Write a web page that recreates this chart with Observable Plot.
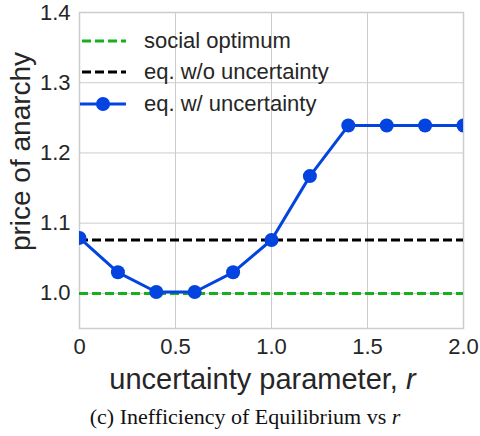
<!DOCTYPE html>
<html>
<head>
<meta charset="utf-8">
<script src="https://cdn.jsdelivr.net/npm/d3@7"></script>
<script src="https://cdn.jsdelivr.net/npm/@observablehq/plot@0.6"></script>
<style>
  html, body { margin: 0; padding: 0; background: white; }
  #wrap { position: relative; width: 480px; }
  #legend { position: absolute; left: 80px; top: 25px; font-family: "Liberation Sans", Arial, sans-serif; font-size: 22px; color: #262626; }
  .row { display: flex; align-items: center; height: 31.5px; }
  .row svg { flex: none; }
  .row span { margin-left: 18px; white-space: nowrap; }
  #caption { font-family: "Liberation Serif", "Times New Roman", serif; font-size: 22px; line-height: 30px; padding-top: 2px; text-align: center; padding-left: 10px; color: #111; }
</style>
</head>
<body>
<div id="wrap"></div>
<div id="caption">(c) Inefficiency of Equilibrium vs <i>r</i></div>
<script>
// data
const rValues = [0, 0.2, 0.4, 0.6, 0.8, 1.0, 1.2, 1.4, 1.6, 1.8, 2.0];
const poaWithUncertainty = [1.079, 1.030, 1.002, 1.002, 1.030, 1.076, 1.167, 1.239, 1.239, 1.239, 1.239];
const socialOptimum = 1.0;
const eqWithoutUncertainty = 1.076;
const xTicks = [0, 0.5, 1.0, 1.5, 2.0];
const xTickLabels = ["0", "0.5", "1.0", "1.5", "2.0"];
const yTicks = [1.0, 1.1, 1.2, 1.3, 1.4];
const yTickLabels = ["1.0", "1.1", "1.2", "1.3", "1.4"];
const seriesNames = ["social optimum", "eq. w/o uncertainty", "eq. w/ uncertainty"];
const xLabel = "uncertainty parameter, r";
const yLabel = "price of anarchy";

const colors = { social: "#15b01a", noUnc: "#000000", unc: "#0343df" };
const data = rValues.map((r, i) => ({ r, poa: poaWithUncertainty[i] }));

const chart = Plot.plot({
  width: 480,
  height: 400,
  marginLeft: 79,
  marginRight: 17,
  marginTop: 12,
  marginBottom: 72,
  style: { fontFamily: "Liberation Sans, Arial, sans-serif", fontSize: "22px", background: "white", overflow: "visible" },
  x: { domain: [0, 2] },
  y: { domain: [0.95, 1.4] },
  marks: [
    Plot.gridX(xTicks, { stroke: "#cccccc", strokeOpacity: 1, strokeWidth: 1 }),
    Plot.gridY(yTicks, { stroke: "#cccccc", strokeOpacity: 1, strokeWidth: 1 }),
    Plot.frame({ stroke: "#cccccc", strokeWidth: 1.5 }),
    Plot.axisX(xTicks, { tickSize: 0, tickPadding: 10, fontSize: 22, color: "#262626", label: null,
      tickFormat: (d) => xTickLabels[xTicks.indexOf(d)] }),
    Plot.axisY(yTicks, { tickSize: 0, tickPadding: 9, fontSize: 22, color: "#262626", label: null,
      tickFormat: (d) => yTickLabels[yTicks.indexOf(d)] }),
    Plot.ruleY([socialOptimum], { stroke: colors.social, strokeWidth: 3, strokeDasharray: "9,4" }),
    Plot.ruleY([eqWithoutUncertainty], { stroke: colors.noUnc, strokeWidth: 3, strokeDasharray: "9,4" }),
    Plot.line(data, { x: "r", y: "poa", stroke: colors.unc, strokeWidth: 3, clip: true }),
    Plot.dot(data, { x: "r", y: "poa", r: 7, fill: colors.unc, stroke: "none", clip: true }),
    Plot.text([xLabel], { frameAnchor: "bottom", dx: -9, dy: 60, lineAnchor: "bottom", textAnchor: "middle", fontSize: 29, fill: "#262626" }),
    Plot.text([yLabel], { frameAnchor: "left", dx: -58, dy: -19, rotate: -90, lineAnchor: "middle", textAnchor: "middle", fontSize: 28, fill: "#262626" })
  ]
});

// italic r in x label
chart.querySelectorAll("text").forEach((t) => {
  if (t.textContent === xLabel) {
    t.textContent = "uncertainty parameter, ";
    const ts = document.createElementNS("http://www.w3.org/2000/svg", "tspan");
    ts.setAttribute("font-style", "italic");
    ts.textContent = "r";
    t.appendChild(ts);
  }
});

const wrap = document.getElementById("wrap");
wrap.appendChild(chart);

// legend overlay
const legend = document.createElement("div");
legend.id = "legend";
const sample = (color, dashed, marker) =>
  `<svg width="46" height="16" viewBox="0 0 46 16">` +
  (dashed
    ? `<line x1="2" y1="8" x2="46" y2="8" stroke="${color}" stroke-width="3" stroke-dasharray="9,4"/>`
    : `<line x1="0" y1="8" x2="46" y2="8" stroke="${color}" stroke-width="3"/>`) +
  (marker ? `<circle cx="23" cy="8" r="7" fill="${color}"/>` : "") +
  `</svg>`;
const legendItems = [
  { name: seriesNames[0], color: colors.social, dashed: true, marker: false },
  { name: seriesNames[1], color: colors.noUnc, dashed: true, marker: false },
  { name: seriesNames[2], color: colors.unc, dashed: false, marker: true }
];
legend.innerHTML = legendItems.map((d) =>
  `<div class="row">${sample(d.color, d.dashed, d.marker)}<span>${d.name}</span></div>`).join("");
wrap.appendChild(legend);
</script>
</body>
</html>
